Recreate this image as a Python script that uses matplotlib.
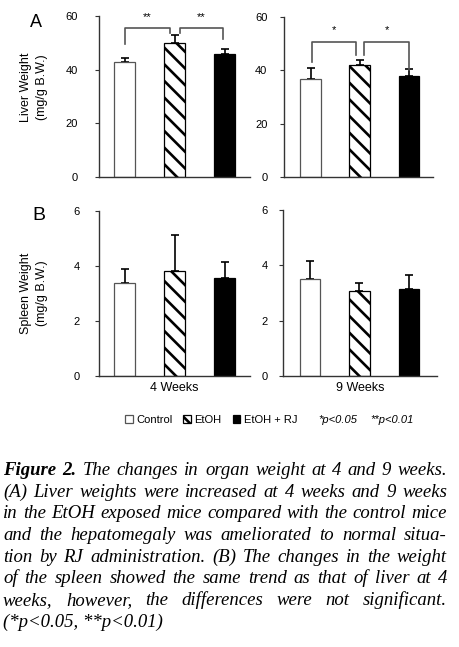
import numpy as np
import matplotlib
matplotlib.use("Agg")
import matplotlib.pyplot as plt

# ---------------------------------------------------------------- data
groups = ["Control", "EtOH", "EtOH + RJ"]
weeks = ["4 Weeks", "9 Weeks"]

liver_4w = [43.0, 50.1, 45.8]
liver_4w_err = [1.5, 3.0, 1.9]
liver_9w = [36.7, 41.9, 37.8]
liver_9w_err = [4.2, 2.0, 2.8]

spleen_4w = [3.37, 3.83, 3.55]
spleen_4w_err = [0.52, 1.30, 0.61]
spleen_9w = [3.52, 3.09, 3.16]
spleen_9w_err = [0.64, 0.28, 0.49]

# significance brackets: (x_left, x_right, y_top, y_left_end, y_right_end, label)
brackets_4w = [(0.0, 0.91, 55.5, 49.7, 53.5, "**"),
               (1.11, 1.96, 55.5, 53.5, 51.3, "**")]
brackets_9w = [(0.02, 0.92, 50.8, 43.3, 45.8, "*"),
               (1.09, 2.0, 50.8, 45.8, 40.2, "*")]

caption_lines = [
    "Figure 2. The changes in organ weight at 4 and 9 weeks.",
    "(A) Liver weights were increased at 4 weeks and 9 weeks",
    "in the EtOH exposed mice compared with the control mice",
    "and the hepatomegaly was ameliorated to normal situa-",
    "tion by RJ administration. (B) The changes in the weight",
    "of the spleen showed the same trend as that of liver at 4",
    "weeks, however, the differences were not significant.",
    "(*p<0.05, **p<0.01)",
]

# ---------------------------------------------------------------- style
W, H = 459, 647
plt.rcParams['hatch.linewidth'] = 1.9
cfont = ['Liberation Sans Narrow', 'Liberation Sans', 'DejaVu Sans']

fig = plt.figure(figsize=(W / 100, H / 100), dpi=100)


def px_rect(x0, y_bot, x1, y_top):
    return [x0 / W, 1 - y_bot / H, (x1 - x0) / W, (y_bot - y_top) / H]


ax_tl = fig.add_axes(px_rect(99, 177, 250, 16))
ax_tr = fig.add_axes(px_rect(284, 177, 433, 17))
ax_bl = fig.add_axes(px_rect(99, 376, 250, 211))
ax_br = fig.add_axes(px_rect(283, 376, 437, 210))

faces = ["white", "white", "black"]
edges = ["#555555", "black", "black"]
hatches = [None, "\\\\", None]
x = np.arange(len(groups))


def draw(ax, vals, errs, ylim, yticks, xlim, pad):
    bars = []
    for i in range(len(groups)):
        b = ax.bar(x[i], vals[i], width=0.42, color=faces[i], edgecolor=edges[i],
                   hatch=hatches[i], linewidth=0.9, label=groups[i], zorder=2)
        bars.append(b)
    ax.errorbar(x, vals, yerr=[np.zeros(len(vals)), errs], fmt="none",
                ecolor="black", elinewidth=1.2, capsize=3, capthick=1.2, zorder=1)
    ax.set_ylim(*ylim)
    ax.set_xlim(*xlim)
    ax.set_yticks(yticks)
    ax.set_xticks([])
    for s in ["top", "right"]:
        ax.spines[s].set_visible(False)
    for s in ["left", "bottom"]:
        ax.spines[s].set_color("#333333")
        ax.spines[s].set_linewidth(1.0)
    ax.tick_params(axis="y", length=3, width=0.8, color="#333333", pad=pad,
                   labelsize=8)
    for lab in ax.get_yticklabels():
        lab.set_family(cfont)
    return bars


def draw_brackets(ax, brs, off):
    for xl, xr, yt, yl, yr, lab in brs:
        ax.plot([xl, xl, xr, xr], [yl, yt, yt, yr], color="#555555", lw=1.2,
                zorder=3)
        ax.text((xl + xr) / 2, yt + off, lab, ha="center", va="center",
                fontsize=8, family=cfont)


draw(ax_tl, liver_4w, liver_4w_err, (0, 60), [0, 20, 40, 60], (-0.51, 2.51), 12)
draw(ax_tr, liver_9w, liver_9w_err, (0, 60), [0, 20, 40, 60], (-0.54, 2.49), 9)
bars = draw(ax_bl, spleen_4w, spleen_4w_err, (0, 6), [0, 2, 4, 6], (-0.51, 2.51), 11)
draw(ax_br, spleen_9w, spleen_9w_err, (0, 6), [0, 2, 4, 6], (-0.545, 2.566), 8)

draw_brackets(ax_tl, brackets_4w, 4.0)
draw_brackets(ax_tr, brackets_9w, 4.3)

ax_tl.set_ylabel("Liver Weight\n(mg/g B.W.)", fontsize=9, family=cfont,
                 linespacing=1.4)
ax_tl.yaxis.set_label_coords(-0.34, 0.56)
ax_bl.set_ylabel("Spleen Weight\n(mg/g B.W.)", fontsize=9, family=cfont,
                 linespacing=1.4)
ax_bl.yaxis.set_label_coords(-0.34, 0.5)

ax_bl.set_xlabel(weeks[0], fontsize=9, family=cfont, labelpad=4)
ax_br.set_xlabel(weeks[1], fontsize=9, family=cfont, labelpad=4)

fig.text(30 / W, 1 - 27 / H, "A", fontsize=13, family=cfont)
fig.text(32 / W, 1 - 220 / H, "B", fontsize=14, family=cfont)

fig.legend(handles=[b[0] for b in bars], labels=groups, ncol=3,
           loc="center", bbox_to_anchor=(211 / W, 1 - 420 / H), frameon=False,
           handlelength=0.7, handleheight=0.7, handletextpad=0.3,
           columnspacing=1.0, borderpad=0, prop={"family": cfont, "size": 8})
fig.text(318 / W, 1 - 420 / H, "*p<0.05", fontsize=8, style="italic",
         family=cfont, va="center")
fig.text(370 / W, 1 - 420 / H, "**p<0.01", fontsize=8, style="italic",
         family=cfont, va="center")

# ---------------------------------------------------------------- caption (justified)
renderer = fig.canvas.get_renderer()
cap_kw = dict(fontsize=13.5, family="Liberation Serif", style="italic")
x0_px, x1_px = 3, 447
baselines = [475, 497, 518, 540, 562, 583, 605, 627]


def word_kw(line_no, idx):
    kw = dict(cap_kw)
    if line_no == 0 and idx < 2:
        kw["weight"] = "bold"
    return kw


for n, line in enumerate(caption_lines):
    y = 1 - baselines[n] / H
    if n == len(caption_lines) - 1:
        fig.text(x0_px / W, y, line, va="baseline", ha="left", **cap_kw)
        continue
    words = line.split(" ")
    widths = []
    for i, wd in enumerate(words):
        t = fig.text(0, 0, wd, **word_kw(n, i))
        widths.append(t.get_window_extent(renderer).width)
        t.remove()
    gap = (x1_px - x0_px - sum(widths)) / (len(words) - 1)
    xp = x0_px
    for i, wd in enumerate(words):
        fig.text(xp / W, y, wd, va="baseline", ha="left", **word_kw(n, i))
        xp += widths[i] + gap

fig.savefig("out.png", dpi=100)
